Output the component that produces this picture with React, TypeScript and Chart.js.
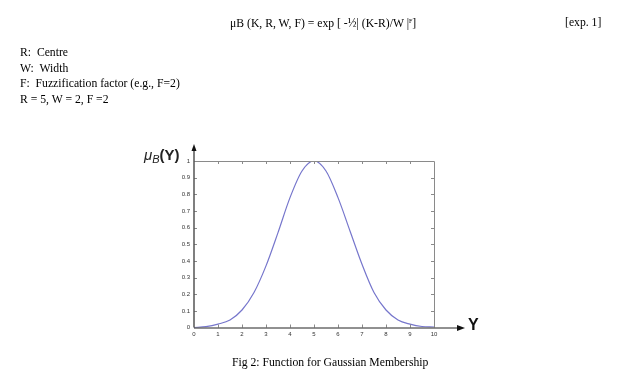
import React, { useEffect, useRef } from "react";
import { Chart, registerables } from "chart.js";

Chart.register(...registerables);

const xValues = [0, 0.5, 1, 1.5, 2, 2.5, 3, 3.5, 4, 4.5, 5, 5.5, 6, 6.5, 7, 7.5, 8, 8.5, 9, 9.5, 10];
const muValues = [0.0, 0.005, 0.02, 0.045, 0.105, 0.21, 0.37, 0.57, 0.78, 0.94, 1.0, 0.94, 0.78, 0.58, 0.38, 0.21, 0.105, 0.045, 0.02, 0.006, 0.003];
const xMin = 0, xMax = 10, xStep = 1;
const yMin = 0, yMax = 1, yStep = 0.1;

const serif = '"Liberation Serif", "Times New Roman", serif';
const sans = '"Liberation Sans", Arial, sans-serif';

const framePlugin = {
  id: "frame",
  afterDraw(chart: any) {
    const { ctx, chartArea: a, scales } = chart;
    const xs = scales.x, ys = scales.y;
    ctx.save();
    ctx.strokeStyle = "#8a8a8a";
    ctx.lineWidth = 1;
    ctx.beginPath();
    ctx.moveTo(a.left, a.top + 0.5);
    ctx.lineTo(a.right + 0.5, a.top + 0.5);
    ctx.lineTo(a.right + 0.5, a.bottom);
    ctx.stroke();
    ctx.beginPath();
    for (let v = xMin + xStep; v < xMax; v += xStep) {
      const px = Math.round(xs.getPixelForValue(v)) + 0.5;
      ctx.moveTo(px, a.top);
      ctx.lineTo(px, a.top + 3);
      ctx.moveTo(px, a.bottom);
      ctx.lineTo(px, a.bottom - 3);
    }
    for (let i = 1; i < 10; i++) {
      const py = Math.round(ys.getPixelForValue(yMin + i * yStep)) + 0.5;
      ctx.moveTo(a.right, py);
      ctx.lineTo(a.right - 3, py);
      ctx.moveTo(a.left, py);
      ctx.lineTo(a.left + 3, py);
    }
    ctx.stroke();
    ctx.strokeStyle = "#555";
    ctx.lineWidth = 1.5;
    ctx.beginPath();
    ctx.moveTo(a.left, a.bottom);
    ctx.lineTo(a.left, a.top - 12);
    ctx.stroke();
    ctx.fillStyle = "#111";
    ctx.beginPath();
    ctx.moveTo(a.left, a.top - 17);
    ctx.lineTo(a.left - 2.5, a.top - 10);
    ctx.lineTo(a.left + 2.5, a.top - 10);
    ctx.closePath();
    ctx.fill();
    ctx.strokeStyle = "#222";
    ctx.lineWidth = 1;
    ctx.beginPath();
    ctx.moveTo(a.left, a.bottom + 0.5);
    ctx.lineTo(a.right + 24, a.bottom + 0.5);
    ctx.stroke();
    ctx.beginPath();
    ctx.moveTo(a.right + 31, a.bottom + 0.5);
    ctx.lineTo(a.right + 23, a.bottom - 2.5);
    ctx.lineTo(a.right + 23, a.bottom + 3.5);
    ctx.closePath();
    ctx.fill();
    ctx.restore();
  },
};

export default function App() {
  const ref = useRef<HTMLCanvasElement | null>(null);
  useEffect(() => {
    if (!ref.current) return;
    const chart = new Chart(ref.current, {
      type: "line",
      data: {
        datasets: [
          {
            data: xValues.map((x, i) => ({ x, y: muValues[i] })),
            borderColor: "#7676cc",
            borderWidth: 1.2,
            pointRadius: 0,
            tension: 0.4,
            cubicInterpolationMode: "monotone",
            fill: false,
          },
        ],
      },
      options: {
        animation: false,
        responsive: false,
        maintainAspectRatio: false,
        layout: { padding: { left: 0, top: 161, right: 183, bottom: 0 } },
        plugins: { legend: { display: false }, tooltip: { enabled: false } },
        scales: {
          x: {
            type: "linear",
            min: xMin,
            max: xMax,
            grid: { display: false, drawTicks: false },
            border: { display: false },
            ticks: { stepSize: xStep, font: { size: 6, family: sans }, color: "#333", padding: 3, maxRotation: 0 },
            afterFit: (s: any) => { s.height = 51.5; },
          },
          y: {
            min: yMin,
            max: yMax,
            grid: { display: false, drawTicks: false },
            border: { display: false },
            ticks: {
              stepSize: yStep,
              font: { size: 6, family: sans },
              color: "#333",
              padding: 4,
              callback: (v: any) => String(Math.round(Number(v) * 10) / 10),
            },
            afterFit: (s: any) => { s.width = 194; },
          },
        },
      },
      plugins: [framePlugin],
    } as any);
    return () => chart.destroy();
  }, []);

  const line: React.CSSProperties = { position: "absolute", left: 20, fontFamily: serif, fontSize: 11.7, whiteSpace: "pre", lineHeight: "14px", color: "#000" };
  return (
    <div style={{ position: "absolute", left: 0, top: 0, width: 617, height: 379, background: "#fff", overflow: "hidden" }}>
      <canvas ref={ref} width={617} height={379} style={{ position: "absolute", left: 0, top: 0, width: 617, height: 379 }} />
      <div style={{ ...line, left: 230, top: 14 }}>
        μB (K, R, W, F) = exp [ -½| (K-R)/W |<sup style={{ fontSize: 6, verticalAlign: "4px" }}>F</sup>]
      </div>
      <div style={{ ...line, left: 565, top: 16 }}>[exp. 1]</div>
      <div style={{ ...line, top: 46 }}>R:  Centre</div>
      <div style={{ ...line, top: 62 }}>W:  Width</div>
      <div style={{ ...line, top: 77 }}>F:  Fuzzification factor (e.g., F=2)</div>
      <div style={{ ...line, top: 93 }}>R = 5, W = 2, F =2</div>
      <div style={{ position: "absolute", left: 144, top: 146, fontFamily: sans, fontSize: 15, color: "#222", whiteSpace: "pre" }}>
        <i>μ</i><i style={{ fontSize: 11, position: "relative", top: 3 }}>B</i><b>(Y)</b>
      </div>
      <div style={{ position: "absolute", left: 468, top: 316, fontFamily: sans, fontSize: 16, fontWeight: "bold", color: "#111" }}>Y</div>
      <div style={{ ...line, left: 232, top: 356 }}>Fig 2: Function for Gaussian Membership</div>
    </div>
  );
}
